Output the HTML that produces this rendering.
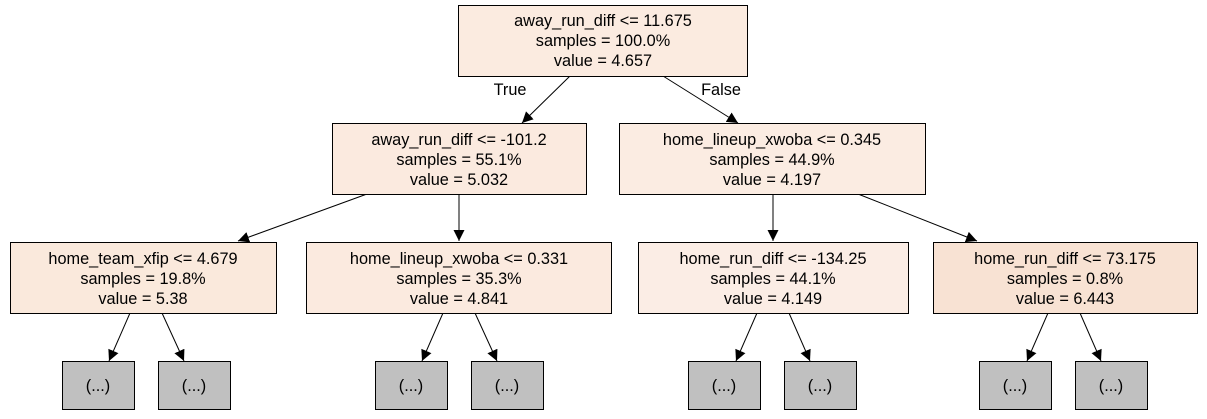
<!DOCTYPE html>
<html><head><meta charset="utf-8"><style>body{margin:0;background:#fff}svg{display:block}text{font-family:"Liberation Sans",sans-serif;font-size:16.3px;fill:#000;text-anchor:middle}</style></head><body>
<svg width="1207" height="419" viewBox="0 0 1207 419" xmlns="http://www.w3.org/2000/svg">
<defs><marker id="a" markerWidth="12" markerHeight="12" refX="11" refY="6" orient="auto" markerUnits="userSpaceOnUse"><path d="M0,0.5 L11,6 L0,11.5 z" fill="#000"/></marker></defs>
<g stroke="#000" stroke-width="1" fill="none">
<line x1="570" y1="76" x2="522" y2="123" marker-end="url(#a)"/>
<line x1="663" y1="76" x2="738" y2="123" marker-end="url(#a)"/>
<line x1="367" y1="194" x2="238" y2="241" marker-end="url(#a)"/>
<line x1="459" y1="194" x2="459" y2="241" marker-end="url(#a)"/>
<line x1="773" y1="194" x2="773" y2="241" marker-end="url(#a)"/>
<line x1="858" y1="194" x2="977" y2="241" marker-end="url(#a)"/>
<line x1="130" y1="313" x2="109" y2="361" marker-end="url(#a)"/>
<line x1="162" y1="313" x2="184" y2="361" marker-end="url(#a)"/>
<line x1="443" y1="313" x2="422" y2="361" marker-end="url(#a)"/>
<line x1="475" y1="313" x2="497" y2="361" marker-end="url(#a)"/>
<line x1="757" y1="313" x2="736" y2="361" marker-end="url(#a)"/>
<line x1="789" y1="313" x2="810" y2="361" marker-end="url(#a)"/>
<line x1="1048" y1="313" x2="1027" y2="361" marker-end="url(#a)"/>
<line x1="1080" y1="313" x2="1101" y2="361" marker-end="url(#a)"/>
</g>
<g stroke="#000" stroke-width="1">
<rect x="458.5" y="5.5" width="289" height="71" fill="#fbebe0"/>
<rect x="332.5" y="123.5" width="254" height="71" fill="#fbeadf"/>
<rect x="619.5" y="123.5" width="306" height="71" fill="#fbece2"/>
<rect x="10.5" y="242.5" width="266" height="71" fill="#fae9dc"/>
<rect x="306.5" y="242.5" width="305" height="71" fill="#fbeadf"/>
<rect x="638.5" y="242.5" width="270" height="71" fill="#fbede5"/>
<rect x="933.5" y="242.5" width="264" height="71" fill="#f8e2d3"/>
<g fill="#c0c0c0">
<rect x="62.5" y="361.5" width="72" height="48"/><rect x="158.5" y="361.5" width="72" height="48"/>
<rect x="375.5" y="361.5" width="72" height="48"/><rect x="471.5" y="361.5" width="72" height="48"/>
<rect x="688.5" y="361.5" width="72" height="48"/><rect x="784.5" y="361.5" width="72" height="48"/>
<rect x="979.5" y="361.5" width="72" height="48"/><rect x="1075.5" y="361.5" width="72" height="48"/>
</g></g>
<text x="510" y="95">True</text><text x="721" y="95">False</text>
<text x="603" y="26">away_run_diff &lt;= 11.675</text><text x="603" y="46">samples = 100.0%</text><text x="603" y="66">value = 4.657</text>
<text x="459" y="145">away_run_diff &lt;= -101.2</text><text x="459" y="165">samples = 55.1%</text><text x="459" y="185">value = 5.032</text>
<text x="772" y="145">home_lineup_xwoba &lt;= 0.345</text><text x="772" y="165">samples = 44.9%</text><text x="772" y="185">value = 4.197</text>
<text x="143" y="264">home_team_xfip &lt;= 4.679</text><text x="143" y="284">samples = 19.8%</text><text x="143" y="304">value = 5.38</text>
<text x="459" y="264">home_lineup_xwoba &lt;= 0.331</text><text x="459" y="284">samples = 35.3%</text><text x="459" y="304">value = 4.841</text>
<text x="773" y="264">home_run_diff &lt;= -134.25</text><text x="773" y="284">samples = 44.1%</text><text x="773" y="304">value = 4.149</text>
<text x="1065" y="264">home_run_diff &lt;= 73.175</text><text x="1065" y="284">samples = 0.8%</text><text x="1065" y="304">value = 6.443</text>
<text x="98" y="391">(...)</text><text x="194" y="391">(...)</text><text x="411" y="391">(...)</text><text x="507" y="391">(...)</text>
<text x="724" y="391">(...)</text><text x="820" y="391">(...)</text><text x="1015" y="391">(...)</text><text x="1111" y="391">(...)</text>
</svg></body></html>
